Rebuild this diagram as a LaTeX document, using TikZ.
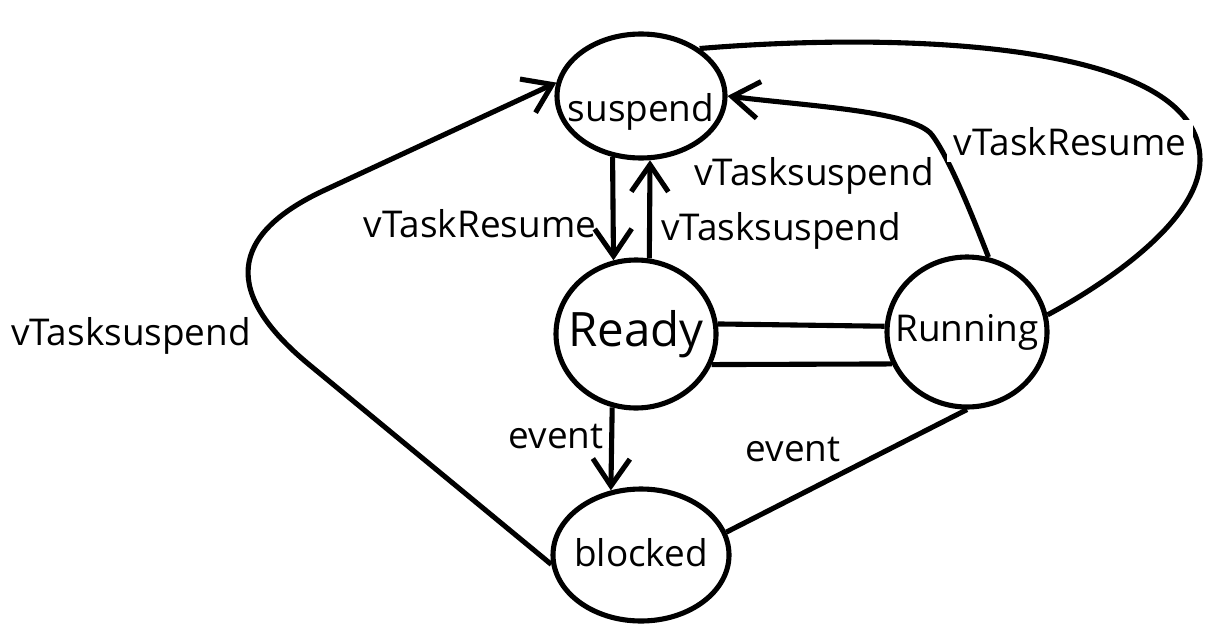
\documentclass[tikz,border=0pt]{standalone}
\usepackage{fontspec}
\setmainfont{Open Sans}
\usetikzlibrary{shapes.geometric,arrows.meta}

\begin{document}
\begin{tikzpicture}[
    line width=2.9pt,
    state/.style={draw,ellipse,inner sep=0pt,font=\fontsize{21pt}{25pt}\selectfont},
    lbl/.style={anchor=base,inner sep=4pt,font=\fontsize{21pt}{25pt}\selectfont},
    barb/.style={-{Straight Barb[length=5.4mm,width=7.4mm]}}
  ]
  \useasboundingbox (0,0) rectangle (24.14,-12.5);
  \node[state,minimum width=3.36cm,minimum height=2.48cm] (sus) at (12.82,-1.92) {\makebox[0pt]{\raisebox{-0.52cm}[0pt][0pt]{suspend}}};
  \node[state,minimum width=3.2cm,minimum height=2.96cm,font=\fontsize{27pt}{32pt}\selectfont] (rdy) at (12.72,-6.68) {\makebox[0pt]{Ready}};
  \node[state,minimum width=3.2cm,minimum height=3cm] (run) at (19.34,-6.64) {\makebox[0pt]{Running}};
  \node[state,minimum width=3.52cm,minimum height=2.64cm] (blk) at (12.82,-11.1) {\makebox[0pt]{\raisebox{0.12cm}{blocked}}};

  \draw[barb] (sus.-115) -- (rdy.107);
  \draw[barb] (rdy.80) -- (sus.-82);
  \draw (rdy.7) -- (run.176);
  \draw (rdy.-22) -- (run.203);
  \draw[barb] (rdy.-108) -- (blk.115);
  \draw (run.south) -- (blk.15);
  \draw[barb] (run.74) .. controls (19.48,-4.4) and (19.0,-3.18) .. (18.64,-2.7)
    .. controls (18.28,-2.22) and (16.14,-2.12) .. (sus.east);
  \draw (sus.39) .. controls (17.96,-0.64) and (24.0,-0.8) .. (24.0,-3.2)
    .. controls (24.0,-4.4) and (22.14,-5.66) .. (run.12);
  \draw[barb] (blk.186) -- (6.18,-7.29) .. controls (4.45,-5.86) and (4.56,-4.69) .. (6.52,-3.79) -- (sus.171);

  \node[lbl] (l1) at (9.6,-4.74) {vTaskResume};
  \node[lbl] (l2) at (15.62,-4.8) {vTasksuspend};
  \node[lbl] (l3) at (16.28,-3.7) {vTasksuspend};
  \node[lbl,fill=white] (l4) at (21.4,-3.1) {vTaskResume};
  \node[lbl] (l5) at (2.62,-6.9) {vTasksuspend};
  \node[lbl] (l6) at (11.12,-8.96) {event};
  \node[lbl] (l7) at (15.86,-9.22) {event};
\end{tikzpicture}
\end{document}
